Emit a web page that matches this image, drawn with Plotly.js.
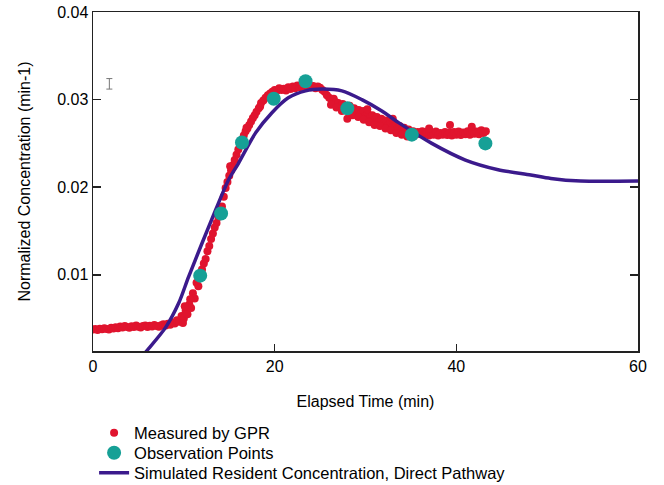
<!DOCTYPE html>
<html>
<head>
<meta charset="utf-8">
<script src="https://cdn.plot.ly/plotly-3.0.1.min.js"></script>
<style>html,body{margin:0;padding:0;background:#fff;}#chart{width:664px;height:485px;}</style>
</head>
<body>
<div id="chart"></div>
<script>
// Measured by GPR (time in min, normalized concentration)
const gprTime = [
  0.0,0.25,0.5,0.75,1.0,1.25,1.5,1.75,2.0,2.25,2.5,2.75,3.0,3.25,3.5,3.75,4.0,4.25,4.5,4.75,
  5.0,5.25,5.5,5.75,6.0,6.25,6.5,6.75,7.0,7.25,7.5,7.75,8.0,8.25,8.5,8.75,9.0,9.25,9.5,9.75,
  10.0,10.2,10.4,10.6,10.8,11.0,11.2,11.4,11.6,11.8,12.0,12.2,12.4,12.6,12.8,13.0,13.2,13.4,13.6,13.8,
  14.0,14.2,14.4,14.6,14.8,15.0,15.2,15.4,15.6,15.8,16.0,16.2,16.4,16.6,16.8,17.0,17.2,17.4,17.6,17.8,
  18.0,18.25,18.5,18.75,19.0,19.25,19.5,19.75,20.0,20.25,20.5,20.75,21.0,21.25,21.5,21.75,22.0,22.25,22.5,22.75,
  23.0,23.25,23.5,23.75,24.0,24.25,24.5,24.75,25.0,25.25,25.5,25.75,26.0,26.25,26.5,26.75,27.0,27.25,27.5,27.75,
  28.0,28.25,28.5,28.75,29.0,29.25,29.5,29.75,30.0,30.25,30.5,30.75,31.0,31.25,31.5,31.75,32.0,32.25,32.5,32.75,
  33.0,33.25,33.5,33.75,34.0,34.25,34.5,34.75,35.0,35.25,35.5,35.75,36.0,36.25,36.5,36.75,37.0,37.25,37.5,37.75,
  38.0,38.25,38.5,38.75,39.0,39.25,39.5,39.75,40.0,40.25,40.5,40.75,41.0,41.25,41.5,41.75,42.0,42.25,42.5,42.75,
  43.0,43.25,
  9.9,10.1,10.7,26.2,26.8,27.4,28.0,28.6,29.2,29.8,30.4,31.0,31.6,32.2,32.8,33.4,34.0,34.6,
  39.3,41.7,37.0,33.0,30.2,15.1,16.9,18.4
];
const gprConc = [
  0.00375,0.00382,0.00370,0.00385,0.00378,0.00390,0.00382,0.00375,0.00395,0.00388,0.00402,0.00390,0.00410,0.00398,0.00415,0.00405,0.00395,0.00412,0.00405,0.00420,
  0.00408,0.00398,0.00415,0.00422,0.00405,0.00418,0.00410,0.00428,0.00415,0.00408,0.00425,0.00435,0.00420,0.00440,0.00430,0.00455,0.00445,0.00480,0.00465,0.00530,
  0.00500,0.00590,0.00550,0.00660,0.00620,0.00790,0.00730,0.00910,0.00870,0.01000,0.01060,0.01130,0.01180,0.01270,0.01330,0.01410,0.01470,0.01540,0.01590,0.01660,
  0.01710,0.01780,0.01890,0.01990,0.02060,0.02130,0.02190,0.02250,0.02310,0.02370,0.02430,0.02490,0.02540,0.02590,0.02640,0.02670,0.02710,0.02750,0.02790,0.02820,
  0.02860,0.02900,0.02960,0.02990,0.03020,0.03050,0.03070,0.03090,0.03110,0.03100,0.03130,0.03110,0.03125,0.03105,0.03140,0.03120,0.03150,0.03130,0.03160,0.03140,
  0.03155,0.03170,0.03145,0.03160,0.03140,0.03155,0.03130,0.03150,0.03135,0.03110,0.03090,0.03050,0.03020,0.03000,0.03010,0.02970,0.02960,0.02930,0.02950,0.02910,
  0.02890,0.02930,0.02870,0.02900,0.02860,0.02880,0.02840,0.02870,0.02810,0.02840,0.02790,0.02820,0.02770,0.02800,0.02750,0.02780,0.02730,0.02760,0.02710,0.02740,
  0.02690,0.02720,0.02670,0.02700,0.02650,0.02680,0.02630,0.02660,0.02620,0.02640,0.02600,0.02630,0.02610,0.02640,0.02600,0.02630,0.02590,0.02620,0.02600,0.02635,
  0.02590,0.02620,0.02600,0.02630,0.02595,0.02625,0.02590,0.02630,0.02600,0.02635,0.02595,0.02625,0.02605,0.02640,0.02600,0.02650,0.02610,0.02635,0.02605,0.02650,
  0.02620,0.02640,
  0.00450,0.00640,0.00720,0.02940,0.02910,0.02870,0.02780,0.02820,0.02800,0.02770,0.02740,0.02710,0.02700,0.02670,0.02650,0.02620,0.02600,0.02580,
  0.02710,0.02690,0.02670,0.02780,0.02890,0.02240,0.02680,0.02920
];

// Observation points
const obsTime = [11.8, 14.1, 16.4, 19.9, 23.4, 28.0, 35.1, 43.2];
const obsConc = [0.0099, 0.0170, 0.0251, 0.0301, 0.0321, 0.0290, 0.0260, 0.0250];

// Simulated resident concentration, direct pathway
const simTime = [5.5, 5.9, 8.0, 9.45, 10.5, 12.0, 13.5, 14.9, 16.0, 17.9, 19.7, 21.5, 23.4, 25.2, 27.4, 29.6, 31.8, 33.6, 37.3, 41.0, 44.6, 48.2, 50.4, 53.7, 60.0];
const simConc = [0.0008, 0.0013, 0.0040, 0.0068, 0.0097, 0.0136, 0.0174, 0.0208, 0.0227, 0.0262, 0.0285, 0.0302, 0.0310, 0.0312, 0.0310, 0.0300, 0.0287, 0.0274, 0.0250, 0.0231, 0.0220, 0.0214, 0.0210, 0.0207, 0.0207];

// small error-bar glyph near top left
const glyphTime = [1.8];
const glyphConc = [0.0318];
const glyphErr = [0.0006];

const xTicks = [0, 20, 40, 60];
const yTicks = [0.01, 0.02, 0.03, 0.04];
const yTickText = ['0.01', '0.02', '0.03', '0.04'];

const FONT = 'Liberation Sans, Arial, sans-serif';

const traces = [
  {
    x: gprTime, y: gprConc, mode: 'markers', type: 'scatter',
    name: 'Measured by GPR', legend: 'legend',
    marker: {color: '#e0142e', size: 8}
  },
  {
    x: simTime, y: simConc, mode: 'lines', type: 'scatter',
    name: 'Simulated Resident Concentration, Direct Pathway', legend: 'legend3',
    line: {color: '#3b1a8c', width: 3.5, shape: 'spline', smoothing: 0.8}
  },
  {
    x: obsTime, y: obsConc, mode: 'markers', type: 'scatter',
    name: 'Observation Points', legend: 'legend2',
    marker: {color: '#16a096', size: 14}
  },
  {
    x: glyphTime, y: glyphConc, mode: 'markers', type: 'scatter',
    showlegend: false, hoverinfo: 'skip',
    marker: {size: 1, color: 'rgba(0,0,0,0)'},
    error_y: {type: 'data', array: glyphErr, visible: true, color: '#777', thickness: 1, width: 3}
  }
];

function legendAt(py) {
  return {
    x: 0.002, xanchor: 'left', y: (351 - py) / 339, yanchor: 'middle',
    font: {family: FONT, size: 16.5, color: '#000'},
    bgcolor: 'rgba(0,0,0,0)', borderwidth: 0, tracegroupgap: 0
  };
}

const layout = {
  width: 664, height: 485,
  margin: {l: 93, r: 26, t: 12, b: 134, autoexpand: false},
  paper_bgcolor: '#fff', plot_bgcolor: '#fff',
  font: {family: FONT, size: 16, color: '#000'},
  showlegend: true,
  legend: legendAt(433),
  legend2: legendAt(453),
  legend3: legendAt(473),
  xaxis: {
    range: [0, 60], tickvals: xTicks, ticks: 'inside', ticklen: 7, tickwidth: 1.5, tickcolor: '#222',
    showline: true, linecolor: '#222', linewidth: 1.5, mirror: true,
    showgrid: false, zeroline: false, automargin: false,
    tickfont: {family: FONT, size: 16, color: '#000'},
    title: {text: 'Elapsed Time (min)', font: {family: FONT, size: 16, color: '#000'}, standoff: 22}
  },
  yaxis: {
    range: [0.0013, 0.04], tickvals: yTicks, ticktext: yTickText, ticks: 'inside', ticklen: 8, tickwidth: 1.5, tickcolor: '#222',
    showline: true, linecolor: '#222', linewidth: 1.5, mirror: 'ticks',
    showgrid: false, zeroline: false, automargin: false,
    tickfont: {family: FONT, size: 16, color: '#000'},
    title: {text: 'Normalized Concentration (min-1)', font: {family: FONT, size: 16, color: '#000'}, standoff: 22}
  }
};

Plotly.newPlot('chart', traces, layout, {displayModeBar: false, staticPlot: true});
</script>
</body>
</html>
